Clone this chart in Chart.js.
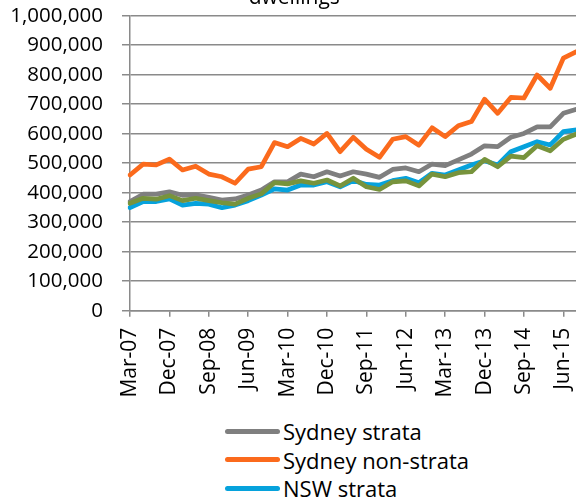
<!DOCTYPE html>
<html>
<head>
<meta charset="utf-8">
<script src="https://cdn.jsdelivr.net/npm/chart.js@4.4.1/dist/chart.umd.min.js"></script>
<style>
  html, body { margin: 0; padding: 0; width: 576px; height: 501px; overflow: hidden; background: #fff; }
  #wrap { position: absolute; left: 0; top: -30px; width: 632px; height: 440px; }
  #legend { position: absolute; left: 225px; top: 417px; font-family: 'Open Sans', sans-serif; font-size: 22px; color: #000; }
  .item { display: flex; align-items: center; height: 28.5px; white-space: nowrap; }
  .swatch { display: inline-block; width: 55px; height: 5px; border-radius: 3px; margin-right: 3px; }
</style>
</head>
<body>
<div id="wrap"><canvas id="c" width="632" height="440"></canvas></div>
<div id="legend"></div>
<script>
const titleText = 'dwellings';
const categories = ['Mar-07','Jun-07','Sep-07','Dec-07','Mar-08','Jun-08','Sep-08','Dec-08',
  'Mar-09','Jun-09','Sep-09','Dec-09','Mar-10','Jun-10','Sep-10','Dec-10',
  'Mar-11','Jun-11','Sep-11','Dec-11','Mar-12','Jun-12','Sep-12','Dec-12',
  'Mar-13','Jun-13','Sep-13','Dec-13','Mar-14','Jun-14','Sep-14','Dec-14',
  'Mar-15','Jun-15','Sep-15'];
const seriesNames = ['Sydney strata','Sydney non-strata','NSW strata','NSW non-strata'];
const sydneyStrata = [370000,395000,395000,403000,391000,393000,384000,375000,379000,392000,409000,437000,437000,463000,454000,471000,457000,471000,463000,452000,479000,484000,471000,497000,492000,511000,531000,559000,556000,588000,601000,623000,623000,669000,683000];
const sydneyNonStrata = [460000,497000,494000,514000,477000,490000,463000,454000,432000,480000,488000,570000,556000,584000,565000,601000,539000,588000,547000,520000,581000,590000,561000,620000,590000,627000,641000,717000,669000,723000,721000,799000,754000,856000,878000];
const nswStrata = [349000,370000,370000,379000,358000,364000,361000,349000,358000,373000,392000,413000,409000,426000,426000,437000,420000,441000,428000,426000,441000,449000,434000,466000,460000,477000,494000,508000,494000,539000,556000,573000,562000,607000,613000];
const nswNonStrata = [364000,381000,378000,390000,373000,381000,373000,366000,361000,381000,396000,434000,430000,440000,432000,443000,423000,449000,420000,411000,437000,440000,423000,463000,454000,468000,471000,513000,488000,524000,519000,559000,542000,581000,599000];
const yTicks = [0,100000,200000,300000,400000,500000,600000,700000,800000,900000,1000000];

const colors = ['#7f7f7f','#fb6a1c','#06a2dc','#77933c'];
const seriesData = [sydneyStrata, sydneyNonStrata, nswStrata, nswNonStrata];
const gridColor = '#8a8a8a';
const font = "'Open Sans', sans-serif";

const datasets = seriesNames.map((name, i) => ({
  label: name,
  data: seriesData[i],
  borderColor: colors[i],
  backgroundColor: colors[i],
  borderWidth: 4.7,
  pointRadius: 0,
  tension: 0,
  fill: false,
  borderJoinStyle: 'round',
  borderCapStyle: 'round',
  order: 4 - i
}));

new Chart(document.getElementById('c'), {
  type: 'line',
  data: { labels: categories, datasets },
  options: {
    responsive: false,
    animation: false,
    devicePixelRatio: 1,
    layout: { padding: { left: 12, right: 55.5, top: 0, bottom: 9.3 } },
    plugins: {
      legend: { display: false },
      tooltip: { enabled: false },
      title: {
        display: true,
        text: titleText,
        color: '#000',
        font: { family: font, size: 21, weight: 'normal' },
        padding: { top: 15.5, bottom: 5 }
      }
    },
    scales: {
      x: {
        type: 'category',
        offset: false,
        afterFit: s => { s.height = 90; },
        grid: {
          drawOnChartArea: false,
          drawTicks: true,
          tickLength: 6,
          lineWidth: 1.5,
          tickColor: ctx => (ctx.index % 3 === 0 ? gridColor : 'rgba(0,0,0,0)')
        },
        border: { display: true, color: gridColor, width: 1.5 },
        ticks: {
          autoSkip: false,
          maxRotation: 90,
          minRotation: 90,
          padding: 11,
          color: '#000',
          font: { family: font, size: 21 },
          callback: function(v, i) { return i % 3 === 0 ? categories[i] : ''; }
        }
      },
      y: {
        min: 0,
        max: 1000000,
        afterFit: s => { s.width = 118; },
        afterBuildTicks: s => { s.ticks = yTicks.map(v => ({ value: v })); },
        grid: { color: gridColor, lineWidth: 1.5, tickLength: 8 },
        border: { display: true, color: gridColor, width: 1.5 },
        ticks: {
          padding: 19,
          color: '#000',
          font: { family: font, size: 20.5 },
          callback: v => v.toLocaleString('en-US')
        }
      }
    }
  }
});

const legend = document.getElementById('legend');
seriesNames.forEach((name, i) => {
  const row = document.createElement('div');
  row.className = 'item';
  const sw = document.createElement('span');
  sw.className = 'swatch';
  sw.style.background = colors[i];
  const tx = document.createElement('span');
  tx.textContent = name;
  row.appendChild(sw);
  row.appendChild(tx);
  legend.appendChild(row);
});
</script>
</body>
</html>
